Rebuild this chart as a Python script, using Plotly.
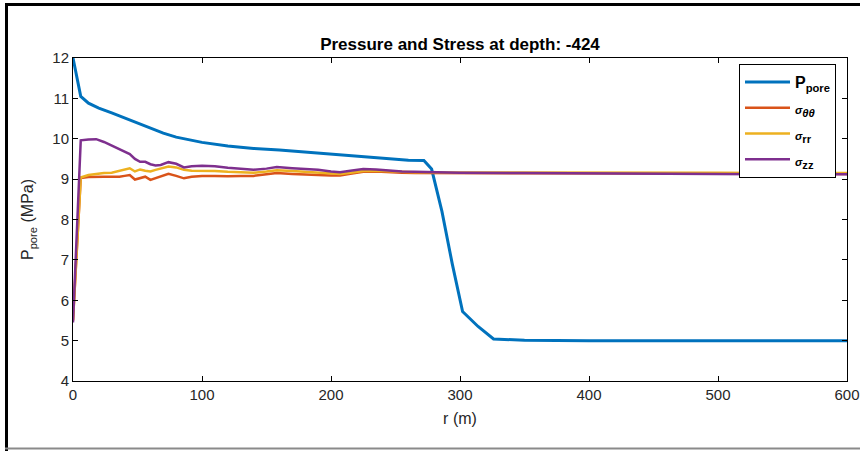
import plotly.graph_objects as go

# Radial distance (m) and pore pressure (MPa)
r_pore = [0, 6, 12, 20, 30, 40, 50, 60, 70, 80, 90, 100, 120, 140, 160, 180,
          200, 220, 240, 260, 272, 278, 286, 294, 302, 314, 326, 350, 400,
          450, 500, 550, 600]
p_pore = [12.0, 11.05, 10.88, 10.76, 10.64, 10.52, 10.40, 10.26, 10.14, 10.04,
          9.97, 9.91, 9.82, 9.76, 9.72, 9.67, 9.62, 9.57, 9.51, 9.47, 9.46,
          9.25, 8.20, 6.90, 5.72, 5.35, 5.04, 5.01, 5.00, 5.00, 5.00, 5.00,
          5.00]

# Radial distance (m) and stress components (MPa)
r_stress = [0, 6, 12, 18, 24, 30, 36, 40, 44, 48, 52, 56, 60, 64, 68, 74, 80,
            86, 92, 100, 110, 120, 130, 140, 150, 158, 170, 180, 190, 200, 207,
            215, 225, 235, 245, 255, 265, 280, 300, 350, 400, 450, 500, 550, 600]
sigma_tt = [5.50, 9.03, 9.05, 9.06, 9.06, 9.06, 9.06, 9.08, 9.10, 8.99, 9.03,
            9.06, 8.98, 9.02, 9.06, 9.13, 9.08, 9.02, 9.06, 9.08, 9.08, 9.07,
            9.08, 9.08, 9.12, 9.15, 9.13, 9.11, 9.10, 9.09, 9.09, 9.13, 9.18,
            9.19, 9.17, 9.16, 9.15, 9.15, 9.15, 9.15, 9.14, 9.14, 9.14, 9.13,
            9.13]
sigma_rr = [5.50, 9.04, 9.10, 9.13, 9.15, 9.16, 9.20, 9.23, 9.27, 9.19, 9.24,
            9.21, 9.19, 9.23, 9.26, 9.31, 9.29, 9.23, 9.21, 9.21, 9.20, 9.18,
            9.17, 9.16, 9.19, 9.22, 9.20, 9.18, 9.15, 9.13, 9.13, 9.16, 9.20,
            9.21, 9.19, 9.18, 9.17, 9.17, 9.17, 9.17, 9.16, 9.16, 9.16, 9.15,
            9.15]
sigma_zz = [5.45, 9.96, 9.98, 9.99, 9.92, 9.83, 9.75, 9.68, 9.62, 9.50, 9.43,
            9.43, 9.37, 9.34, 9.35, 9.42, 9.38, 9.29, 9.32, 9.33, 9.32, 9.28,
            9.26, 9.23, 9.26, 9.30, 9.27, 9.25, 9.23, 9.19, 9.17, 9.21, 9.25,
            9.24, 9.21, 9.19, 9.18, 9.17, 9.16, 9.15, 9.14, 9.14, 9.13, 9.12,
            9.12]

W, H = 860, 451
ML, MR, MT, MB = 73, 13, 58, 70
PW, PH = W - ML - MR, H - MT - MB

def px(x):
    return (x - ML) / PW

def py(y):
    return 1 - (y - MT) / PH

FONT = "Liberation Sans, Arial, sans-serif"
SIG = "<span style='font-size:11px'><i>σ</i></span>"

series = [
    (r_pore, p_pore, "P<sub>pore</sub>", "#0072BD", 3),
    (r_stress, sigma_tt, SIG + "<sub><i>θθ</i></sub>", "#D95319", 2.5),
    (r_stress, sigma_rr, SIG + "<sub>rr</sub>", "#EDB120", 2.5),
    (r_stress, sigma_zz, SIG + "<sub>zz</sub>", "#7E2F8E", 2.5),
]

fig = go.Figure()
for i, (xs, ys, name, color, lw) in enumerate(series):
    fig.add_trace(go.Scatter(x=xs, y=ys, mode="lines", name=name,
                             legendgroup=f"g{i}",
                             line=dict(color=color, width=lw)))

axis_common = dict(showline=True, linecolor="black", linewidth=1,
                   mirror="ticks", ticks="inside", ticklen=5, tickcolor="black",
                   showgrid=False, zeroline=False, automargin=False,
                   ticklabeloverflow="allow",
                   tickfont=dict(family=FONT, size=15, color="#262626"))

fig.update_layout(
    template="none",
    width=W, height=H,
    margin=dict(l=ML, r=MR, t=MT, b=MB, autoexpand=False),
    paper_bgcolor="white", plot_bgcolor="white",
    title=dict(text="<b>Pressure and Stress at depth: -424</b>",
               xref="paper", x=px(460), xanchor="center",
               yref="container", y=1 - 44 / H, yanchor="middle",
               font=dict(family=FONT, size=17, color="black")),
    xaxis=dict(range=[0, 600], dtick=100, tick0=0,
               title=dict(text="r (m)", standoff=10,
                          font=dict(family=FONT, size=16, color="#262626")),
               **axis_common),
    yaxis=dict(range=[4, 12], dtick=1, tick0=4,
               title=dict(text="P<sub>pore</sub> (MPa)", standoff=14,
                          font=dict(family=FONT, size=16, color="#262626")),
               **axis_common),
    legend=dict(x=px(836), xanchor="right", y=py(64), yanchor="top",
                bgcolor="white", bordercolor="black", borderwidth=1,
                itemwidth=45, tracegroupgap=2,
                font=dict(family=FONT, size=16, color="black", weight="bold")),
    showlegend=True,
)

# Outer window frame: dark top and left edges, grey bottom edge
fig.add_shape(type="rect", xref="paper", yref="paper",
              x0=px(6.5), x1=px(W + 20), y0=py(4.5), y1=py(H + 20),
              line=dict(color="black", width=3), fillcolor="rgba(0,0,0,0)")
fig.add_shape(type="line", xref="paper", yref="paper",
              x0=px(5), x1=px(W), y0=py(448.5), y1=py(448.5),
              line=dict(color="#8a8a8a", width=2))

fig.write_html("out.html")
